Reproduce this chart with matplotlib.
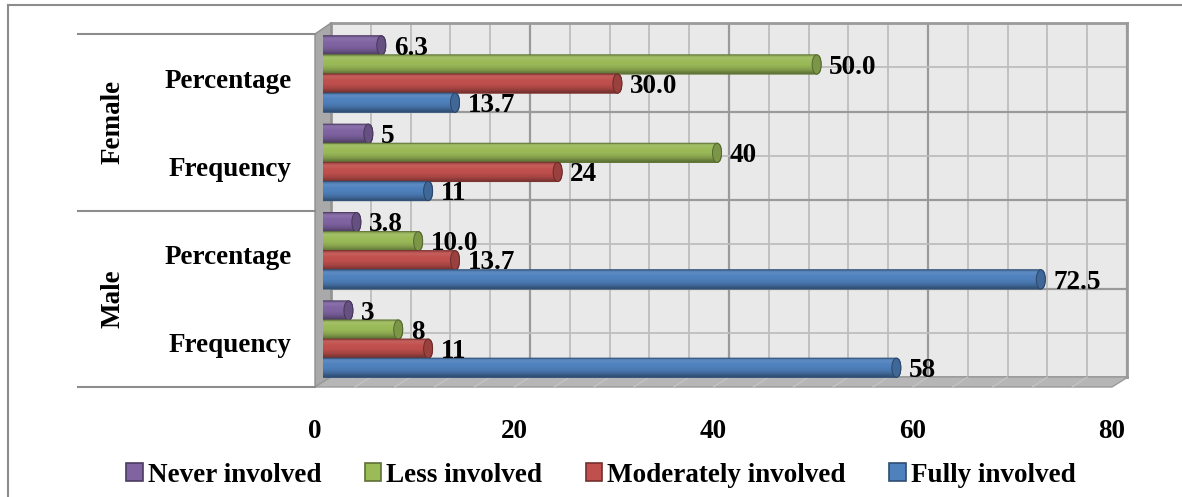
import numpy as np
import matplotlib.pyplot as plt
from matplotlib.patches import FancyBboxPatch, Ellipse, Polygon, Patch
from matplotlib.colors import to_rgb
from matplotlib.lines import Line2D
from matplotlib.transforms import IdentityTransform

plt.rcParams['font.family'] = ['Liberation Serif', 'DejaVu Serif']
plt.rcParams['font.weight'] = 'bold'

groups = ['Female', 'Male']
measures = ['Percentage', 'Frequency', 'Percentage', 'Frequency']
series = ['Never involved', 'Less involved', 'Moderately involved', 'Fully involved']
colors = ['#8064A2', '#9BBB59', '#C0504D', '#4F81BD']

# rows top to bottom: Female Percentage, Female Frequency, Male Percentage, Male Frequency
never = [6.3, 5, 3.8, 3]
less = [50.0, 40, 10.0, 8]
moderately = [30.0, 24, 13.7, 11]
fully = [13.7, 11, 72.5, 58]
values = [never, less, moderately, fully]

W, H = 1182, 497
FS = 19.5


def rect(x0, y0, x1, y1):
    # pixel box (top-left origin) -> figure fraction
    return [x0 / W, 1 - y1 / H, (x1 - x0) / W, (y1 - y0) / H]


def shade(c, f):
    c = np.array(to_rgb(c))
    if f >= 1:
        return c + (1 - c) * (f - 1)
    return c * f


fig = plt.figure(figsize=(W / 100, H / 100), dpi=100)

# back wall with grid
ax_wall = fig.add_axes(rect(331, 23, 1127, 377), zorder=0)
ax_wall.set_facecolor('#e9e9e9')
ax_wall.set_xlim(0, 80)
ax_wall.set_ylim(0, 8)
ax_wall.set_xticks(np.arange(0, 81, 20))
ax_wall.set_xticks(np.arange(0, 81, 4), minor=True)
ax_wall.set_yticks([2, 4, 6])
ax_wall.set_yticks([1, 3, 5, 7], minor=True)
ax_wall.grid(which='minor', color='#bdbdbd', lw=1.3)
ax_wall.grid(which='major', color='#9a9a9a', lw=1.6)
ax_wall.tick_params(which='both', length=0, labelbottom=False, labelleft=False)
for s in ax_wall.spines.values():
    s.set_color('#9a9a9a')
    s.set_linewidth(2)
ax_wall.set_axisbelow(True)

# front plane: tick labels and category labels
ax_front = fig.add_axes(rect(315, 34, 1112, 387), zorder=2)
ax_front.patch.set_visible(False)
for s in ax_front.spines.values():
    s.set_visible(False)
ax_front.set_xlim(0, 80)
ax_front.set_ylim(3.5, -0.5)
ax_front.set_xticks(np.arange(0, 81, 20))
ax_front.set_xticklabels([str(t) for t in range(0, 81, 20)], fontsize=FS)
ax_front.set_yticks(range(4))
ax_front.set_yticklabels(measures, fontsize=FS)
ax_front.tick_params(axis='x', length=0, pad=23)
ax_front.tick_params(axis='y', length=0, pad=17)

# side wall and floor
fig.add_artist(Polygon([(315, H - 34), (331, H - 23), (331, H - 377), (315, H - 387)],
                       closed=True, transform=IdentityTransform(), zorder=1,
                       facecolor='#a9a9a9', edgecolor='#8f8f8f', lw=1))
fig.add_artist(Polygon([(315, H - 387), (1112, H - 387), (1128, H - 377), (331, H - 377)],
                       closed=True, transform=IdentityTransform(), zorder=1,
                       facecolor='#b6b6b6', edgecolor='#9a9a9a', lw=1))
fig.canvas.draw()
for v in range(4, 80, 4):
    p0 = ax_front.transData.transform((v, 3.5))
    p1 = ax_wall.transData.transform((v, 0))
    fig.add_artist(Line2D([p0[0], p1[0]], [p0[1], p1[1]], transform=IdentityTransform(),
                          color='#c6c6c6', lw=0.8, zorder=1.1))

# group labels and separators on the left
xg = (113 - 315) / (1112 - 315)
xs = (78 - 315) / (1112 - 315)
for i, g in enumerate(groups):
    ax_front.text(xg, 2 * i + 0.5, g, rotation=90, ha='center', va='center', fontsize=FS,
                  transform=ax_front.get_yaxis_transform())
for yb in [-0.5, 1.5, 3.5]:
    ax_front.plot([xs, 0], [yb, yb], color='#8c8c8c', lw=1.5, clip_on=False,
                  transform=ax_front.get_yaxis_transform())

# cylinder bars
ax = fig.add_axes(rect(323, 28.5, 1120, 382), zorder=3)
ax.patch.set_visible(False)
ax.set_axis_off()

h = 0.218
step = 0.216
rx = 0.45
profile = np.array([0.82, 1.1, 1.06, 1.0, 1.0, 0.98, 0.93, 0.86, 0.76, 0.62])
for i, (vals, col) in enumerate(zip(values, colors)):
    grad = np.array([shade(col, f) for f in profile])[:, None, :]
    for r, v in enumerate(vals):
        y = r + (i - 1.5) * step + 0.015
        body = FancyBboxPatch((-rx, y - h / 2), v + rx, h,
                              boxstyle=f'round,pad=0,rounding_size={rx}',
                              mutation_aspect=(h / 2) / rx,
                              facecolor=col, edgecolor='none', zorder=2 + i * 0.1)
        ax.add_patch(body)
        im = ax.imshow(grad, extent=[-rx, v, y + h / 2, y - h / 2], aspect='auto',
                       interpolation='bicubic', zorder=2.01 + i * 0.1)
        im.set_clip_path(body)
        outline = FancyBboxPatch((-rx, y - h / 2), v + rx, h,
                                 boxstyle=f'round,pad=0,rounding_size={rx}',
                                 mutation_aspect=(h / 2) / rx,
                                 facecolor='none', edgecolor=shade(col, 0.62), lw=0.7,
                                 zorder=2.02 + i * 0.1)
        ax.add_patch(outline)
        ax.add_patch(Ellipse((v - rx, y), 2 * rx, h, facecolor=shade(col, 0.8),
                             edgecolor=shade(col, 0.55), lw=0.7, zorder=2.03 + i * 0.1))
        lab = f'{v:.1f}' if measures[r] == 'Percentage' else f'{v:.0f}'
        ax.text(v + 0.8, y + 0.03, lab, ha='left', va='center', fontsize=FS, zorder=6)

ax.set_xlim(0, 80)
ax.set_ylim(3.5, -0.5)

# legend
handles = [Patch(facecolor=c, edgecolor=shade(c, 0.6), lw=1.2) for c in colors]
fig.legend(handles, series, loc='center', bbox_to_anchor=(601 / W, 1 - 475 / H), ncol=4,
           frameon=False, handlelength=0.6, handleheight=0.6, handletextpad=0.2,
           columnspacing=1.6, prop={'size': FS, 'weight': 'bold'})

# outer frame
fig.add_artist(Line2D([8 / W, 1], [1 - 4.5 / H, 1 - 4.5 / H], color='#8c8c8c', lw=1.5))
fig.add_artist(Line2D([8 / W, 8 / W], [0, 1 - 4.5 / H], color='#8c8c8c', lw=1.5))

fig.savefig('out.png', dpi=100)
